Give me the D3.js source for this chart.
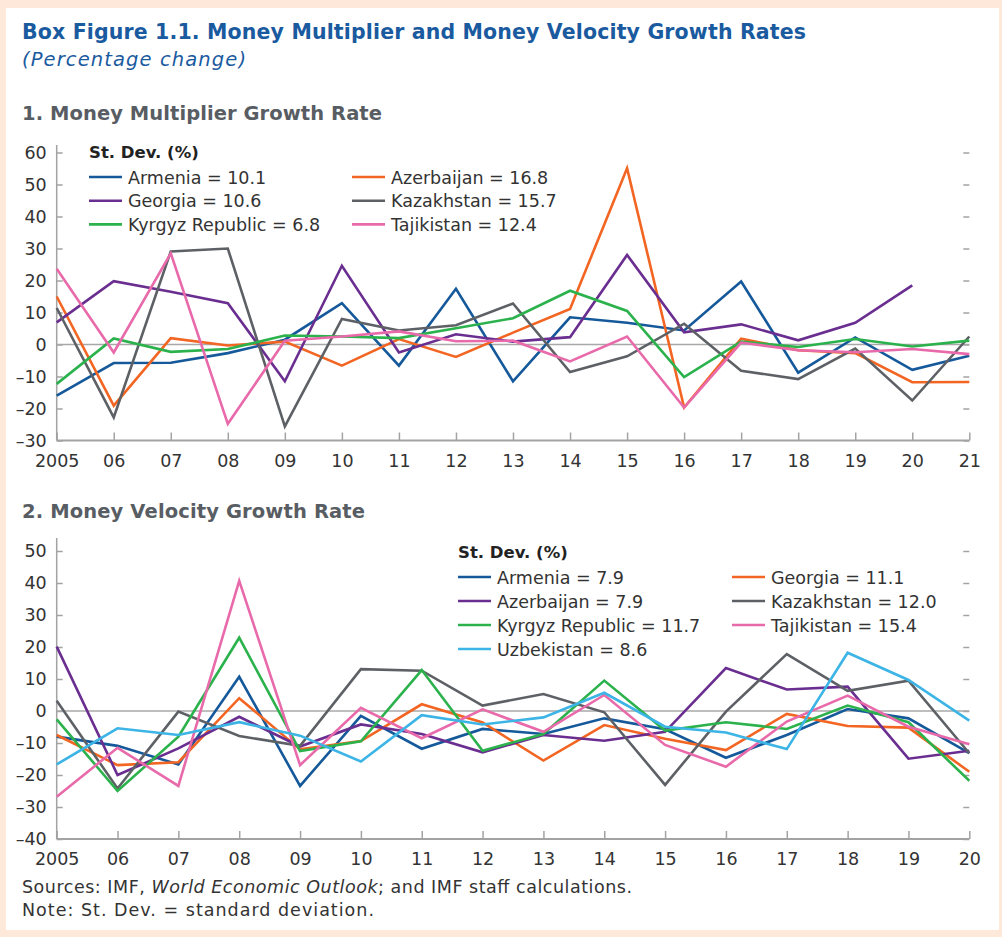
<!DOCTYPE html>
<html>
<head>
<meta charset="utf-8">
<script src="https://cdn.jsdelivr.net/npm/d3@7"></script>
<style>
    body { margin: 0; background: #fde8d9; }
    svg { display: block; font-family: "DejaVu Sans", "Open Sans", sans-serif; }
</style>
</head>
<body>
<svg id="chart" width="1002" height="937"></svg>
<script>
// panel 1: money multiplier growth rate (percent change)
const years1 = ["2005", "06", "07", "08", "09", "10", "11", "12", "13",
                "14", "15", "16", "17", "18", "19", "20", "21"];
const mmArmenia = [-16.0, -5.8, -5.7, -2.7, 1.5, 12.9, -6.6, 17.4, -11.5,
                   8.5, 6.8, 4.4, 19.7, -8.8, 2.2, -7.9, -3.5];
const mmAzerbaijan = [15.0, -19.1, 2.0, -0.3, 0.9, -6.6, 1.7, -3.9, 3.7,
                      11.1, 55.1, -19.7, 1.8, -1.8, -2.7, -11.8, -11.7];
const mmGeorgia = [6.9, 19.8, 16.5, 12.9, -11.5, 24.6, -2.5, 3.2, 0.9,
                   2.3, 28.0, 3.8, 6.3, 1.3, 6.8, 18.5, null];
const mmKazakhstan = [11.4, -22.8, 29.1, 30.0, -25.6, 8.0, 4.4, 6.0, 12.8,
                      -8.6, -3.7, 6.5, -8.2, -10.8, -1.3, -17.5, 2.5];
const mmKyrgyz = [-12.3, 1.9, -2.3, -1.4, 2.8, 2.5, 2.0, 5.1, 8.2,
                  16.8, 10.5, -10.2, 0.9, -0.8, 1.7, -0.6, 1.2];
const mmTajikistan = [23.7, -2.5, 28.5, -24.8, 1.2, 2.5, 4.1, 1.0, 1.2,
                      -5.3, 2.5, -19.7, 0.6, -1.8, -2.4, -1.4, -3.0];
const ticks1 = [-30, -20, -10, 0, 10, 20, 30, 40, 50, 60];

// panel 2: money velocity growth rate (percent change)
const years2 = ["2005", "06", "07", "08", "09", "10", "11", "12", "13",
                "14", "15", "16", "17", "18", "19", "20"];
const mvArmenia = [-8.0, -10.9, -16.7, 10.7, -23.4, -1.5, -11.8, -5.6,
                   -7.2, -2.3, -5.7, -14.6, -7.5, 0.6, -2.3, -13.2];
const mvAzerbaijan = [20.1, -20.0, -11.7, -1.8, -11.1, -4.2, -7.2, -12.9,
                      -7.5, -9.3, -6.5, 13.4, 6.7, 7.6, -14.9, -12.4];
const mvGeorgia = [-7.5, -16.9, -16.0, 4.0, -12.0, -9.4, 2.1, -3.6,
                   -15.5, -4.4, -8.7, -12.2, -0.9, -4.7, -5.2, -19.0];
const mvKazakhstan = [3.2, -24.2, -0.2, -7.8, -10.9, 13.1, 12.6, 1.7,
                      5.3, -0.4, -23.1, -0.2, 17.8, 6.3, 9.5, -13.2];
const mvKyrgyz = [-2.6, -25.0, -8.0, 22.9, -12.5, -9.5, 12.8, -12.4,
                  -7.2, 9.5, -6.1, -3.5, -5.6, 1.7, -3.5, -21.8];
const mvTajikistan = [-26.8, -11.5, -23.4, 40.7, -16.9, 1.0, -8.5, 0.5,
                      -6.5, 5.0, -10.6, -17.4, -3.3, 4.8, -4.9, -10.4];
const mvUzbekistan = [-16.7, -5.4, -7.5, -3.5, -7.7, -15.8, -1.3, -4.2,
                      -2.0, 5.7, -4.9, -6.7, -11.9, 18.2, 9.7, -3.0];
const ticks2 = [-40, -30, -20, -10, 0, 10, 20, 30, 40, 50];

// colours
const BLUE = "#15599b", ORANGE = "#f26522", PURPLE = "#6a2e90",
      GRAY = "#5d6166", GREEN = "#2bb24c", PINK = "#e86aaa",
      LIGHTBLUE = "#3cb4e5";

const svg = d3.select("#chart");

// white panel on the peach page
svg.append("rect")
   .attr("x", 6).attr("y", 8)
   .attr("width", 993).attr("height", 922)
   .attr("fill", "#ffffff");

// headings
svg.append("text")
   .attr("x", 22).attr("y", 39)
   .attr("fill", "#1a5a9f")
   .attr("textLength", 784).attr("lengthAdjust", "spacing")
   .style("font-size", "20.5px").style("font-weight", 700)
   .text("Box Figure 1.1. Money Multiplier and Money Velocity Growth Rates");

svg.append("text")
   .attr("x", 22).attr("y", 66)
   .attr("fill", "#1a5a9f")
   .attr("textLength", 224).attr("lengthAdjust", "spacing")
   .style("font-size", "19.5px").style("font-style", "italic")
   .text("(Percentage change)");

svg.append("text")
   .attr("x", 22).attr("y", 120)
   .attr("fill", "#585d63")
   .attr("textLength", 360).attr("lengthAdjust", "spacing")
   .style("font-size", "19.5px").style("font-weight", 700)
   .text("1. Money Multiplier Growth Rate");

svg.append("text")
   .attr("x", 22).attr("y", 518)
   .attr("fill", "#585d63")
   .attr("textLength", 343).attr("lengthAdjust", "spacing")
   .style("font-size", "19.5px").style("font-weight", 700)
   .text("2. Money Velocity Growth Rate");

// panel 1
drawPanel({
    years: years1,
    ticks: ticks1,
    xRange: [56.7, 969.3],
    yRange: [440.5, 152.5],
    axisTop: 145,
    series: [
        {name: "Armenia", sd: "10.1", values: mmArmenia, color: BLUE},
        {name: "Azerbaijan", sd: "16.8", values: mmAzerbaijan, color: ORANGE},
        {name: "Georgia", sd: "10.6", values: mmGeorgia, color: PURPLE},
        {name: "Kazakhstan", sd: "15.7", values: mmKazakhstan, color: GRAY},
        {name: "Kyrgyz Republic", sd: "6.8", values: mmKyrgyz, color: GREEN},
        {name: "Tajikistan", sd: "12.4", values: mmTajikistan, color: PINK}
    ],
    columns: [["Armenia", "Georgia", "Kyrgyz Republic"],
              ["Azerbaijan", "Kazakhstan", "Tajikistan"]],
    legend: {x: 89, y: 158, colGap: 263, rowGap: 23.7}
});

// panel 2
drawPanel({
    years: years2,
    ticks: ticks2,
    xRange: [56.7, 969.3],
    yRange: [839, 551],
    axisTop: 538,
    series: [
        {name: "Armenia", sd: "7.9", values: mvArmenia, color: BLUE},
        {name: "Georgia", sd: "11.1", values: mvGeorgia, color: ORANGE},
        {name: "Azerbaijan", sd: "7.9", values: mvAzerbaijan, color: PURPLE},
        {name: "Kazakhstan", sd: "12.0", values: mvKazakhstan, color: GRAY},
        {name: "Kyrgyz Republic", sd: "11.7", values: mvKyrgyz, color: GREEN},
        {name: "Tajikistan", sd: "15.4", values: mvTajikistan, color: PINK},
        {name: "Uzbekistan", sd: "8.6", values: mvUzbekistan, color: LIGHTBLUE}
    ],
    columns: [["Armenia", "Azerbaijan", "Kyrgyz Republic", "Uzbekistan"],
              ["Georgia", "Kazakhstan", "Tajikistan"]],
    legend: {x: 458, y: 558, colGap: 274, rowGap: 24}
});

// footnotes
let notes = svg.append("text")
               .attr("x", 22).attr("y", 893)
               .attr("fill", "#333")
               .attr("textLength", 610).attr("lengthAdjust", "spacing")
               .style("font-size", "17.5px");
notes.append("tspan").text("Sources: IMF, ");
notes.append("tspan").style("font-style", "italic").text("World Economic Outlook");
notes.append("tspan").text("; and IMF staff calculations.");

svg.append("text")
   .attr("x", 22).attr("y", 916)
   .attr("fill", "#333")
   .attr("textLength", 352).attr("lengthAdjust", "spacing")
   .style("font-size", "17.5px")
   .text("Note: St. Dev. = standard deviation.");


/**
 * Draws one line chart panel with axes, zero line, lines and legend.
 */
function drawPanel(cfg) {
    let x = d3.scalePoint()
              .domain(cfg.years)
              .range(cfg.xRange);

    let y = d3.scaleLinear()
              .domain(d3.extent(cfg.ticks))
              .range(cfg.yRange);

    let g = svg.append("g");
    let axisColor = "#a3a3a3";

    // left axis line running a bit above the top tick
    g.append("line")
     .attr("x1", cfg.xRange[0]).attr("x2", cfg.xRange[0])
     .attr("y1", cfg.axisTop).attr("y2", y(cfg.ticks[0]))
     .attr("stroke", axisColor).attr("stroke-width", 1.5);

    // left axis: inward ticks and labels
    let left = g.append("g")
                .attr("transform", "translate(" + cfg.xRange[0] + ",0)")
                .call(d3.axisLeft(y).tickValues(cfg.ticks)
                        .tickSize(-6).tickPadding(10)
                        .tickFormat(d3.format("d")));
    left.select(".domain").remove();
    left.selectAll("line").attr("stroke", axisColor).attr("stroke-width", 1.5);
    left.selectAll("text")
        .attr("fill", "#333")
        .style("font-size", "17.5px")
        .style("font-family", "'DejaVu Sans', sans-serif")
        .text(d => d < 0 ? "\u2013" + Math.abs(d) : d);

    // right side: tick marks only
    let right = g.append("g")
                 .attr("transform", "translate(" + cfg.xRange[1] + ",0)")
                 .call(d3.axisRight(y).tickValues(cfg.ticks)
                         .tickSize(-6).tickFormat(""));
    right.select(".domain").remove();
    right.selectAll("line").attr("stroke", axisColor).attr("stroke-width", 1.5);

    // zero line
    g.append("line")
     .attr("x1", cfg.xRange[0]).attr("x2", cfg.xRange[1])
     .attr("y1", y(0)).attr("y2", y(0))
     .attr("stroke", "#a8a8a8").attr("stroke-width", 1.5);

    // bottom axis with inward ticks
    let bottom = g.append("g")
                  .attr("transform", "translate(0," + y(cfg.ticks[0]) + ")")
                  .call(d3.axisBottom(x).tickSize(-8).tickPadding(14));
    bottom.select(".domain")
          .attr("d", "M" + cfg.xRange[0] + ",0H" + cfg.xRange[1])
          .attr("stroke", axisColor).attr("stroke-width", 2);
    bottom.selectAll("line").attr("stroke", axisColor).attr("stroke-width", 1.5);
    bottom.selectAll("text")
          .attr("fill", "#333")
          .style("font-size", "17.5px")
          .style("font-family", "'DejaVu Sans', sans-serif");

    // series lines
    let line = d3.line()
                 .defined(d => d.v !== null)
                 .x(d => x(d.year))
                 .y(d => y(d.v));

    cfg.series.forEach(function(s) {
        let pts = cfg.years.map((yr, i) => ({year: yr, v: s.values[i]}));
        g.append("path")
         .datum(pts)
         .attr("d", line)
         .attr("fill", "none")
         .attr("stroke", s.color)
         .attr("stroke-width", 2.6)
         .attr("stroke-linejoin", "miter");
    });

    // legend
    let lg = g.append("g")
              .attr("transform", "translate(" + cfg.legend.x + "," + cfg.legend.y + ")");
    lg.append("text")
      .attr("x", 0).attr("y", 0)
      .attr("fill", "#222")
      .style("font-size", "16.5px").style("font-weight", 700)
      .text("St. Dev. (%)");

    cfg.series.forEach(function(s) {
        let col = cfg.columns[0].includes(s.name) ? 0 : 1;
        let row = cfg.columns[col].indexOf(s.name);
        let ey = 19 + row * cfg.legend.rowGap;
        let ex = col * cfg.legend.colGap;
        lg.append("line")
          .attr("x1", ex).attr("x2", ex + 33)
          .attr("y1", ey).attr("y2", ey)
          .attr("stroke", s.color).attr("stroke-width", 2.6);
        lg.append("text")
          .attr("x", ex + 39).attr("y", ey + 6.5)
          .attr("fill", "#333")
          .style("font-size", "17.5px")
          .text(s.name + " = " + s.sd);
    });
}
</script>
</body>
</html>
